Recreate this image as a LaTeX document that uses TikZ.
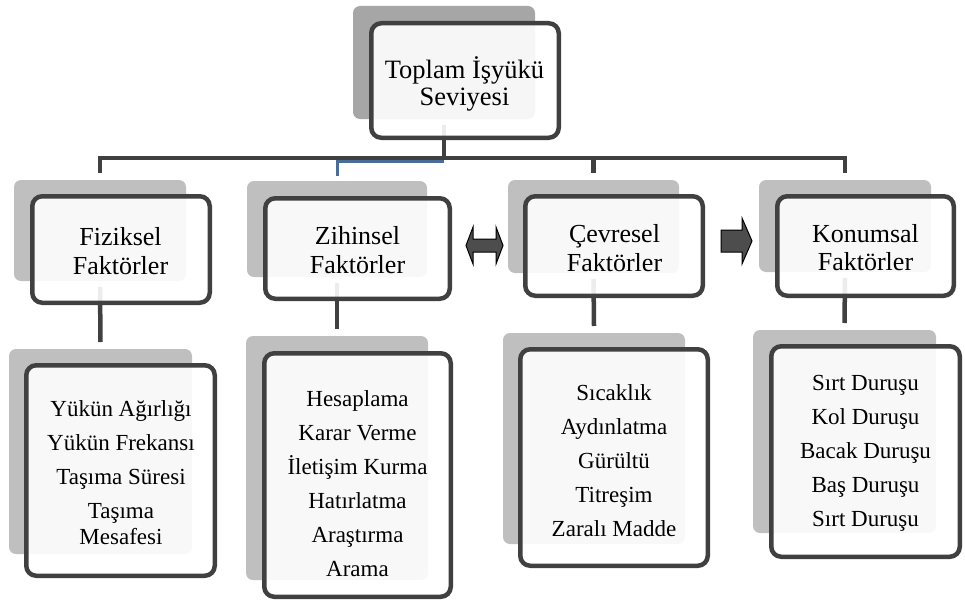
\documentclass[tikz,border=0pt]{standalone}
\usepackage{fontspec}
\setmainfont{Liberation Serif}
\definecolor{shadowdark}{HTML}{A6A6A6}
\definecolor{shadowlight}{HTML}{BFBFBF}
\definecolor{boxline}{HTML}{404040}
\definecolor{busblue}{HTML}{4A6C9B}
\definecolor{arrowfill}{HTML}{4D4D4D}
\begin{document}
\begin{tikzpicture}[x=1pt,y=-1pt,
  shadowbox/.style={draw=none, fill=shadowlight, rounded corners=7pt, inner sep=0pt, outer sep=0pt},
  frontbox/.style={draw=boxline, line width=4.5pt, fill=white, fill opacity=0.9, rounded corners=10pt, inner sep=0pt, outer sep=0pt},
  conn/.style={draw=boxline, line width=4.5pt},
  blueconn/.style={draw=busblue, line width=3pt},
  toptext/.style={align=center, font=\fontsize{26.5}{27}\selectfont, inner sep=0pt},
  midtext/.style={align=center, font=\fontsize{26}{28.5}\selectfont, inner sep=0pt},
  lowtext/.style={align=center, font=\fontsize{23}{34}\selectfont, inner sep=0pt},
  arrowshape/.style={draw=black, line width=1pt, fill=arrowfill, line join=miter}]
\useasboundingbox (0,0) rectangle (965,602);

% shadows
\node[shadowbox, fill=shadowdark, minimum width=182pt, minimum height=113pt] (s0) at (444,62.5) {};
\node[shadowbox, minimum width=172pt, minimum height=101pt] (s1) at (100,230.5) {};
\node[shadowbox, minimum width=180pt, minimum height=96pt] (s2) at (337,229) {};
\node[shadowbox, minimum width=171pt, minimum height=93pt] (s3) at (593.5,226.5) {};
\node[shadowbox, minimum width=172pt, minimum height=92pt] (s4) at (845,226) {};
\node[shadowbox, minimum width=183pt, minimum height=205pt] (b1) at (100.5,451.5) {};
\node[shadowbox, minimum width=182pt, minimum height=244pt] (b2) at (337,458) {};
\node[shadowbox, minimum width=182pt, minimum height=211pt] (b3) at (594,438.5) {};
\node[shadowbox, minimum width=183pt, minimum height=203pt] (b4) at (844.5,431.5) {};

% connectors
\coordinate (busL) at (100,158);
\coordinate (bluestart) at (444,161);
\draw[conn] ([yshift=-6pt]s0.south) -- (s0.south |- busL);
\draw[conn, line join=miter] ([yshift=7pt]s1.north) -- (s1.north |- busL) -- (s4.north |- busL) -- ([yshift=7pt]s4.north);
\draw[conn] (s3.north |- busL) -- ([yshift=7pt]s3.north);
\draw[blueconn, line join=miter] (bluestart) -| ([yshift=5pt]s2.north);
\draw[conn] ([yshift=-6pt]s1.south) -- ([yshift=7pt]b1.north);
\draw[conn] ([yshift=-6pt]s2.south) -- ([yshift=7pt]b2.north);
\draw[conn] ([yshift=-6pt]s3.south) -- ([yshift=7pt]b3.north);
\draw[conn] ([yshift=-6pt]s4.south) -- ([yshift=7pt]b4.north);

% front boxes
\node[frontbox, minimum width=187.5pt, minimum height=114.5pt] (f0) at (465,80.5) {};
\node[frontbox, minimum width=177.5pt, minimum height=106.5pt] (f1) at (121,249.5) {};
\node[frontbox, minimum width=184.5pt, minimum height=100.5pt] (f2) at (357.5,248.5) {};
\node[frontbox, minimum width=177.5pt, minimum height=99.5pt] (f3) at (614,246) {};
\node[frontbox, minimum width=176.5pt, minimum height=99.5pt] (f4) at (865.5,246) {};
\node[frontbox, minimum width=188.5pt, minimum height=210.5pt] (g1) at (120.5,470.5) {};
\node[frontbox, minimum width=186.5pt, minimum height=243.5pt] (g2) at (357.5,475) {};
\node[frontbox, minimum width=187.5pt, minimum height=216.5pt] (g3) at (614,457.5) {};
\node[frontbox, minimum width=188.5pt, minimum height=210.5pt] (g4) at (865.5,451.5) {};

% texts
\node[toptext] (t0) at (464.5,84) {Toplam İşyükü\\Seviyesi};
\node[midtext] (t1) at (120.5,251) {Fiziksel\\Faktörler};
\node[midtext] (t2) at (357.5,250) {Zihinsel\\Faktörler};
\node[midtext] (t3) at (614.5,248) {Çevresel\\Faktörler};
\node[midtext] (t4) at (865.5,247.5) {Konumsal\\Faktörler};
\node[lowtext] (u1) at (121,473) {Yükün Ağırlığı\\Yükün Frekansı\\Taşıma Süresi\\Taşıma\\[-8pt]Mesafesi};
\node[lowtext] (u2) at (357.5,484) {Hesaplama\\Karar Verme\\İletişim Kurma\\Hatırlatma\\Araştırma\\Arama};
\node[lowtext] (u3) at (614,461) {Sıcaklık\\Aydınlatma\\Gürültü\\Titreşim\\Zaralı Madde};
\node[lowtext] (u4) at (865.5,453.5) {Sırt Duruşu\\Kol Duruşu\\Bacak Duruşu\\Baş Duruşu\\Sırt Duruşu};

% block arrows
\draw[arrowshape] (466,245.5) -- (473,227) -- (473,239) -- (496,239) -- (496,227) -- (503,245.5) -- (496,264) -- (496,252) -- (473,252) -- (473,264) -- cycle;
\draw[arrowshape] (721,230) -- (742,230) -- (742,218) -- (752,241) -- (742,264) -- (742,252) -- (721,252) -- cycle;
\end{tikzpicture}
\end{document}
